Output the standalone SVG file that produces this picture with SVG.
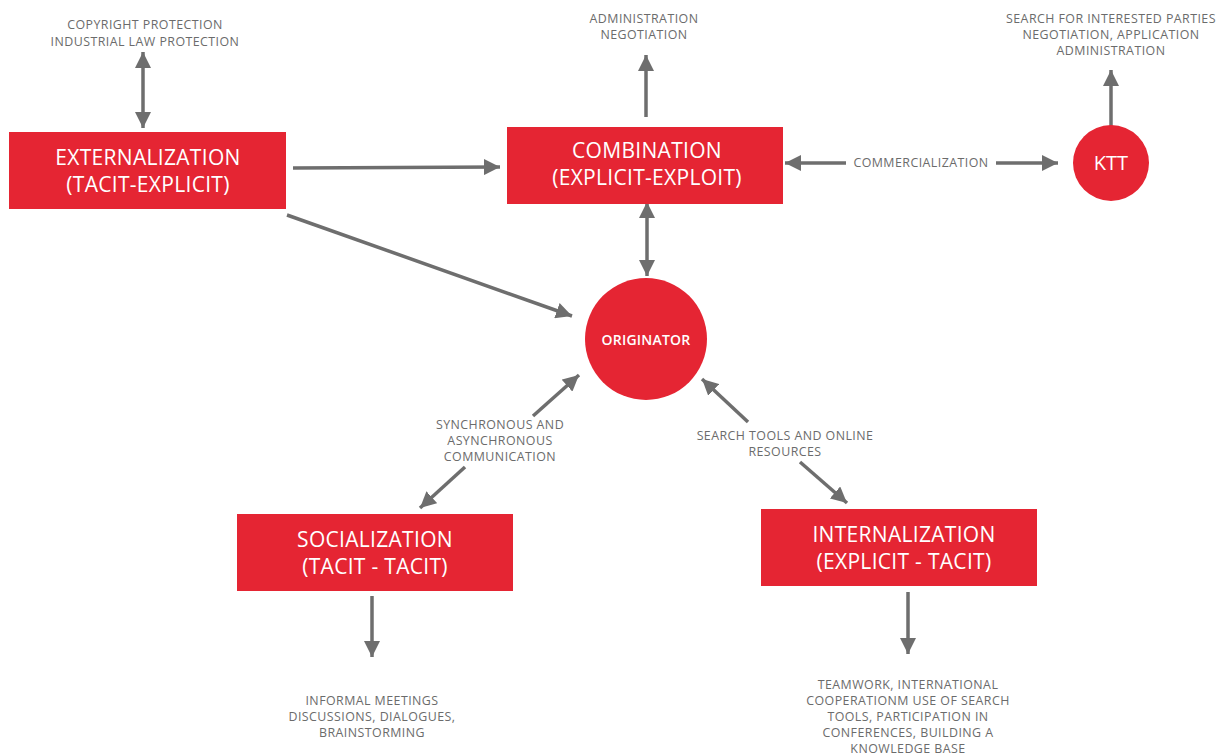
<svg xmlns="http://www.w3.org/2000/svg" width="1225" height="756" viewBox="0 0 1225 756">
  <style>
    .box { fill: #e52533; }
    .title { font-family: "Open Sans", "Liberation Sans", sans-serif; font-size: 21px; letter-spacing: 0.3px; fill: #ffffff; text-anchor: middle; }
    .note { font-family: "Open Sans", "Liberation Sans", sans-serif; font-size: 12.4px; fill: #6b6b6b; text-anchor: middle; letter-spacing: 0.45px; }
    .link { stroke: #6e6e6e; stroke-width: 3.5; fill: none; }
  </style>
  <defs>
    <marker id="head" markerUnits="userSpaceOnUse" viewBox="0 0 16 16" refX="16" refY="8" markerWidth="16" markerHeight="16" orient="auto-start-reverse">
      <path d="M0,0 L16,8 L0,16 Z" fill="#6e6e6e"/>
    </marker>
  </defs>
  <rect width="1225" height="756" fill="#ffffff"/>

  <!-- connectors -->
  <g id="connectors">
    <line class="link" x1="143" y1="52" x2="143" y2="128" marker-start="url(#head)" marker-end="url(#head)"/>
    <line class="link" x1="293" y1="168" x2="500" y2="167" marker-end="url(#head)"/>
    <line class="link" x1="646" y1="117" x2="646" y2="55" marker-end="url(#head)"/>
    <line class="link" x1="647" y1="202" x2="647" y2="276" marker-start="url(#head)" marker-end="url(#head)"/>
    <line class="link" x1="846" y1="163" x2="785" y2="163" marker-end="url(#head)"/>
    <line class="link" x1="996" y1="163" x2="1058" y2="163" marker-end="url(#head)"/>
    <line class="link" x1="1111" y1="126" x2="1111" y2="70" marker-end="url(#head)"/>
    <line class="link" x1="287" y1="215" x2="572" y2="316" marker-end="url(#head)"/>
    <line class="link" x1="533" y1="416" x2="579" y2="375" marker-end="url(#head)"/>
    <line class="link" x1="465" y1="467" x2="420" y2="508" marker-end="url(#head)"/>
    <line class="link" x1="748" y1="422" x2="702" y2="379" marker-end="url(#head)"/>
    <line class="link" x1="800" y1="462" x2="847" y2="503" marker-end="url(#head)"/>
    <line class="link" x1="372" y1="596" x2="372" y2="657" marker-end="url(#head)"/>
    <line class="link" x1="908" y1="592" x2="908" y2="654" marker-end="url(#head)"/>
    <text class="note" x="921" y="167">COMMERCIALIZATION</text>
    <text class="note" x="500" y="429">SYNCHRONOUS AND</text>
    <text class="note" x="500" y="445">ASYNCHRONOUS</text>
    <text class="note" x="500" y="461">COMMUNICATION</text>
    <text class="note" x="785" y="440">SEARCH TOOLS AND ONLINE</text>
    <text class="note" x="785" y="456">RESOURCES</text>
  </g>

  <!-- notes -->
  <g id="note-protection">
    <text class="note" x="145" y="29">COPYRIGHT PROTECTION</text>
    <text class="note" x="145" y="46">INDUSTRIAL LAW PROTECTION</text>
  </g>
  <g id="note-administration">
    <text class="note" x="644" y="23">ADMINISTRATION</text>
    <text class="note" x="644" y="39">NEGOTIATION</text>
  </g>
  <g id="note-ktt">
    <text class="note" x="1111" y="23">SEARCH FOR INTERESTED PARTIES</text>
    <text class="note" x="1111" y="39">NEGOTIATION, APPLICATION</text>
    <text class="note" x="1111" y="55">ADMINISTRATION</text>
  </g>
  <g id="note-informal">
    <text class="note" x="372" y="705">INFORMAL MEETINGS</text>
    <text class="note" x="372" y="721">DISCUSSIONS, DIALOGUES,</text>
    <text class="note" x="372" y="737">BRAINSTORMING</text>
  </g>
  <g id="note-teamwork">
    <text class="note" x="908" y="689">TEAMWORK, INTERNATIONAL</text>
    <text class="note" x="908" y="705">COOPERATIONM USE OF SEARCH</text>
    <text class="note" x="908" y="721">TOOLS, PARTICIPATION IN</text>
    <text class="note" x="908" y="737">CONFERENCES, BUILDING A</text>
    <text class="note" x="908" y="753">KNOWLEDGE BASE</text>
  </g>

  <!-- nodes -->
  <g id="externalization">
    <rect class="box" x="9" y="132" width="277" height="77"/>
    <text class="title" x="148" y="165">EXTERNALIZATION</text>
    <text class="title" x="148" y="192">(TACIT-EXPLICIT)</text>
  </g>
  <g id="combination">
    <rect class="box" x="507" y="127" width="276" height="77"/>
    <text class="title" x="647" y="158">COMBINATION</text>
    <text class="title" x="647" y="185">(EXPLICIT-EXPLOIT)</text>
  </g>
  <g id="ktt">
    <circle class="box" cx="1111" cy="163" r="38"/>
    <text class="title" x="1111" y="170" style="font-size:20px;letter-spacing:0">KTT</text>
  </g>
  <g id="originator">
    <circle class="box" cx="646" cy="339" r="61"/>
    <text class="title" x="646" y="345" style="font-size:14px;font-weight:600;letter-spacing:0.2px">ORIGINATOR</text>
  </g>
  <g id="socialization">
    <rect class="box" x="237" y="514" width="276" height="77"/>
    <text class="title" x="375" y="547">SOCIALIZATION</text>
    <text class="title" x="375" y="574">(TACIT - TACIT)</text>
  </g>
  <g id="internalization">
    <rect class="box" x="761" y="509" width="276" height="77"/>
    <text class="title" x="904" y="542">INTERNALIZATION</text>
    <text class="title" x="904" y="569">(EXPLICIT - TACIT)</text>
  </g>
</svg>
